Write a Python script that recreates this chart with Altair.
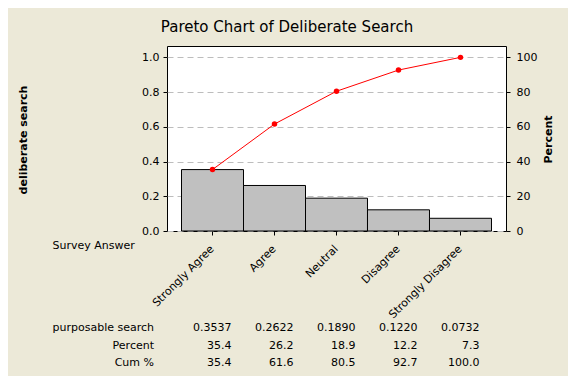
import altair as alt
import pandas as pd

categories = ["Strongly Agree", "Agree", "Neutral", "Disagree", "Strongly Disagree"]
values = [0.3537, 0.2622, 0.1890, 0.1220, 0.0732]
percent = [35.4, 26.2, 18.9, 12.2, 7.3]
cum_pct = [35.4, 61.6, 80.5, 92.7, 100.0]
left_ticks = [0.0, 0.2, 0.4, 0.6, 0.8, 1.0]
right_ticks = [0, 20, 40, 60, 80, 100]

df = pd.DataFrame({
    "cat": categories,
    "val": values,
    "pct": percent,
    "cum": cum_pct,
    "val_s": [f"{v:.4f}" for v in values],
    "pct_s": [f"{v:.1f}" for v in percent],
    "cum_s": [f"{v:.1f}" for v in cum_pct],
})

FONT = "DejaVu Sans"
W, H = 339, 185

xenc = alt.X(
    "cat:N",
    sort=categories,
    scale=alt.Scale(type="band", paddingInner=0, paddingOuter=0.234),
    axis=alt.Axis(
        title="Survey Answer",
        titleFontWeight="normal",
        titleX=-115,
        titleY=14,
        titleAlign="left",
        titleBaseline="middle",
        labelAngle=315,
        labelAlign="right",
        labelBaseline="middle",
        labelPadding=12,
        tickSize=4,
        domain=False,
    ),
)

base = alt.Chart(df)

bars = base.mark_bar(fill="#C0C0C0", stroke="black", strokeWidth=1).encode(
    x=xenc,
    y=alt.Y(
        "val:Q",
        scale=alt.Scale(domain=[0, 1.0655], nice=False, zero=True),
        axis=alt.Axis(
            values=left_ticks,
            format=".1f",
            title="deliberate search",
            titleX=-144,
            titleY=93.5,
            titleAngle=270,
            titleAlign="center",
            titleBaseline="middle",
            grid=True,
            gridDash=[6, 4],
            gridColor="#BDBDBD",
            gridWidth=1,
            domain=False,
            tickSize=4,
            labelPadding=4,
        ),
    ),
)

yright = alt.Y(
    "cum:Q",
    scale=alt.Scale(domain=[0, 106.55], nice=False, zero=True),
    axis=alt.Axis(
        orient="right",
        values=right_ticks,
        format="d",
        title="Percent",
        titleX=42.5,
        titleY=93,
        titleAngle=270,
        titleAlign="center",
        titleBaseline="middle",
        grid=False,
        domain=False,
        tickSize=4,
        labelPadding=6,
    ),
)

line = base.mark_line(color="#FF0000", strokeWidth=1).encode(x=xenc, y=yright)
pts = base.mark_point(filled=True, color="#FF0000", size=30, opacity=1).encode(x=xenc, y=yright)

row_names = ["purposable search", "Percent", "Cum %"]
row_fields = ["val_s", "pct_s", "cum_s"]
row_y = [282.3, 299.7, 316.7]

text_layers = []
for name, fld, yy in zip(row_names, row_fields, row_y):
    text_layers.append(
        base.mark_text(align="right", baseline="middle", dx=19, font=FONT, fontSize=11, color="black").encode(
            x=xenc, y=alt.value(yy), text=f"{fld}:N"
        )
    )
    text_layers.append(
        alt.Chart(pd.DataFrame({"label": [name]})).mark_text(
            align="right", baseline="middle", font=FONT, fontSize=11, color="black"
        ).encode(x=alt.value(-13), y=alt.value(yy), text="label:N")
    )

chart = alt.layer(
    bars,
    alt.layer(line, pts),
    *text_layers,
).resolve_scale(y="independent").properties(
    width=W,
    height=H,
    autosize=alt.AutoSizeParams(type="none"),
    padding={"left": 159, "top": 38, "right": 62, "bottom": 145},
    title=alt.TitleParams(
        "Pareto Chart of Deliberate Search",
        anchor="middle",
        frame="group",
        dx=-49.5,
        offset=4,
        baseline="middle",
        font=FONT,
        fontSize=15,
        fontWeight="normal",
        color="black",
    ),
).configure(
    background="#ECE9D8",
).configure_view(
    stroke="black", strokeWidth=1, fill="white"
).configure_axis(
    labelFont=FONT,
    labelFontSize=11,
    labelColor="black",
    tickColor="black",
    titleFont=FONT,
    titleFontSize=11,
    titleFontWeight="bold",
    titleColor="black",
)

chart.save("out.html", embed_options={"renderer": "svg", "actions": False})
